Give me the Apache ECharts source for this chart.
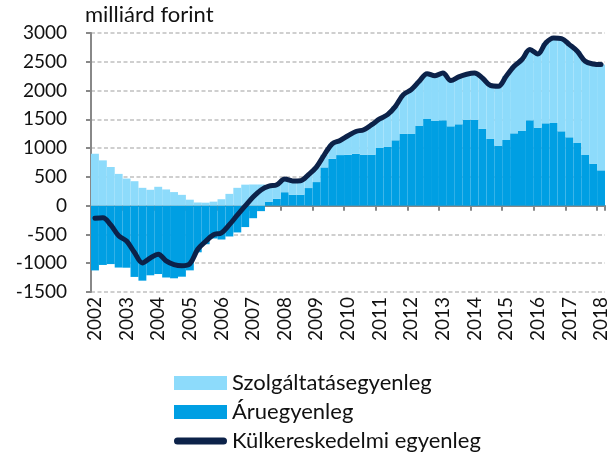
<!DOCTYPE html>
<html>
<head>
<meta charset="utf-8">
<script src="https://cdn.jsdelivr.net/npm/echarts@6/dist/echarts.min.js"></script>
<style>
  html, body { margin: 0; padding: 0; background: #fff; }
  #chart { width: 612px; height: 454px; }
</style>
</head>
<body>
<div id="chart"></div>
<script>
// Hungarian trade balance, quarterly (rolling), billion HUF
const years = ['2002','2003','2004','2005','2006','2007','2008','2009','2010',
               '2011','2012','2013','2014','2015','2016','2017','2018'];
const quarterNames = ['I.', 'II.', 'III.', 'IV.'];

// Goods balance (Áruegyenleg)
const goodsBalance = [
  -1125, -1030, -1015, -1075, -1078, -1238, -1303, -1210,
  -1188, -1248, -1262, -1234, -1124, -810, -670, -570,
  -588, -535, -465, -372, -218, -95, 70, 118,
  234, 191, 191, 306, 410, 665, 815, 879,
  884, 902, 886, 886, 1002, 1020, 1136, 1251,
  1246, 1391, 1506, 1472, 1483, 1379, 1414, 1489,
  1489, 1333, 1159, 1043, 1141, 1257, 1298, 1483,
  1356, 1431, 1437, 1292, 1188, 1089, 881, 730,
  614
];

// Services balance (Szolgáltatásegyenleg)
const servicesBalance = [
  902, 787, 672, 552, 471, 425, 310, 276,
  328, 282, 236, 188, 104, 55, 52, 70,
  112, 205, 310, 365, 368, 368, 268, 246,
  228, 240, 243, 231, 260, 219, 260, 254,
  330, 387, 434, 522, 504, 561, 590, 678,
  770, 770, 788, 787, 823, 794, 823, 794,
  817, 886, 931, 1031, 1107, 1165, 1240, 1229,
  1280, 1396, 1477, 1611, 1610, 1594, 1628, 1732,
  1837
];

// External trade balance (Külkereskedelmi egyenleg)
const tradeBalance = [
  -220, -210, -335, -523, -615, -815, -994, -910,
  -845, -960, -1025, -1045, -1010, -758, -620, -505,
  -472, -330, -165, -5, 150, 273, 338, 364,
  462, 430, 434, 537, 670, 884, 1075, 1133,
  1214, 1289, 1320, 1408, 1506, 1581, 1726, 1929,
  2016, 2161, 2294, 2259, 2306, 2173, 2237, 2283,
  2306, 2219, 2090, 2074, 2248, 2422, 2538, 2712,
  2636, 2827, 2914, 2903, 2798, 2683, 2509, 2462,
  2451
];

const yTicks = { min: -1500, max: 3000, step: 500 };

// One category per quarter: 2002 I. ... 2018 I.
const categories = [];
years.forEach(function (y) {
  quarterNames.forEach(function (q) {
    if (categories.length < goodsBalance.length) categories.push(y + ' ' + q);
  });
});

const FONT = 'Lato, "Open Sans", sans-serif';
const AXIS_GREY = '#888888';
const TEXT = '#111111';

const chart = echarts.init(document.getElementById('chart'), null, { renderer: 'canvas' });

chart.setOption({
  animation: false,
  backgroundColor: '#ffffff',
  title: {
    text: 'milliárd forint',
    left: 85,
    top: 4,
    padding: 0,
    textStyle: { fontFamily: FONT, fontSize: 22, fontWeight: 'normal', color: TEXT }
  },
  grid: { left: 91, right: 7, top: 33, bottom: 162, containLabel: false },
  legend: {
    orient: 'vertical',
    left: 174,
    top: 372,
    padding: 0,
    height: 82,
    itemWidth: 53,
    itemHeight: 14,
    itemGap: 7,
    textStyle: { fontFamily: FONT, fontSize: 22, color: TEXT },
    data: [
      { name: 'Szolgáltatásegyenleg', icon: 'rect' },
      { name: 'Áruegyenleg', icon: 'rect' },
      { name: 'Külkereskedelmi egyenleg',
        icon: 'path://M3.5,0H49.5A3.5,3.5,0,0,1,49.5,7H3.5A3.5,3.5,0,0,1,3.5,0Z' }
    ]
  },
  xAxis: [
    {
      // year labels along the bottom edge of the plot
      type: 'category',
      data: categories,
      position: 'bottom',
      boundaryGap: true,
      axisLine: { show: false, onZero: false },
      axisTick: { show: false },
      axisLabel: {
        interval: 3,
        rotate: 90,
        margin: 5,
        fontFamily: FONT,
        fontSize: 19,
        color: TEXT,
        formatter: function (v) { return v.slice(0, 4); }
      },
      splitLine: { show: false }
    },
    {
      // axis line with yearly ticks, drawn through zero
      type: 'category',
      data: categories,
      position: 'top',
      boundaryGap: true,
      axisLine: { show: true, onZero: true, lineStyle: { color: AXIS_GREY, width: 2 } },
      axisTick: { show: true, inside: true, interval: 3, length: 5,
                  lineStyle: { color: AXIS_GREY, width: 2 } },
      axisLabel: { show: false },
      splitLine: { show: false }
    }
  ],
  yAxis: {
    type: 'value',
    min: yTicks.min,
    max: yTicks.max,
    interval: yTicks.step,
    axisLine: { show: true, lineStyle: { color: AXIS_GREY, width: 2 } },
    axisTick: { show: true, length: 5, lineStyle: { color: AXIS_GREY, width: 2 } },
    axisLabel: {
      margin: 24, fontFamily: FONT, fontSize: 19, color: TEXT,
      formatter: function (v) { return String(v); }
    },
    splitLine: { show: true, lineStyle: { color: '#c0c0c0', width: 1.5, type: [4, 2.5] } }
  },
  series: [
    {
      name: 'Áruegyenleg',
      type: 'bar',
      stack: 'balance',
      barCategoryGap: '0%',
      itemStyle: { color: '#009fe3' },
      data: goodsBalance
    },
    {
      name: 'Szolgáltatásegyenleg',
      type: 'bar',
      stack: 'balance',
      barCategoryGap: '0%',
      itemStyle: { color: '#8ddbfb' },
      data: servicesBalance
    },
    {
      name: 'Külkereskedelmi egyenleg',
      type: 'line',
      smooth: 0.35,
      symbol: 'none',
      lineStyle: { color: '#0c2249', width: 5, cap: 'round', join: 'round' },
      itemStyle: { color: '#0c2249' },
      data: tradeBalance,
      z: 5
    }
  ]
});
</script>
</body>
</html>
